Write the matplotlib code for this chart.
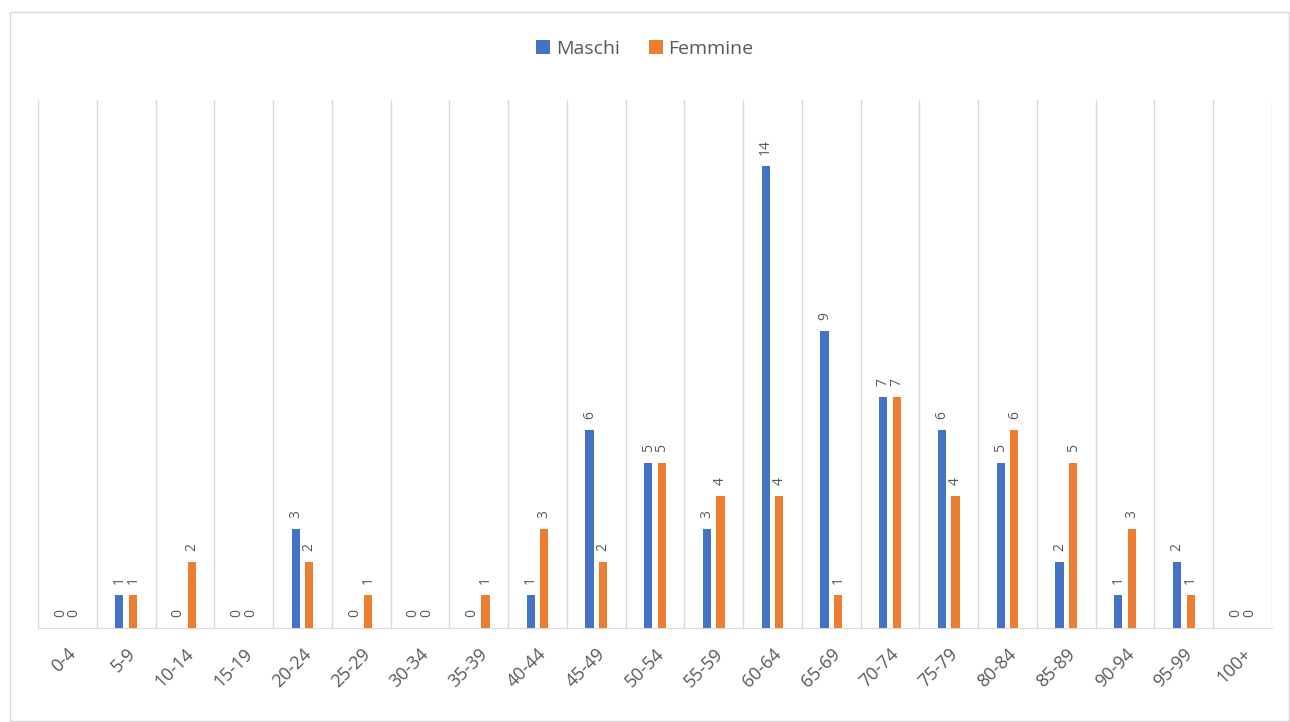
import numpy as np
from matplotlib import pyplot as plt
from matplotlib.patches import Rectangle

categories = ["0-4", "5-9", "10-14", "15-19", "20-24", "25-29", "30-34", "35-39",
              "40-44", "45-49", "50-54", "55-59", "60-64", "65-69", "70-74",
              "75-79", "80-84", "85-89", "90-94", "95-99", "100+"]
maschi = [0, 1, 0, 0, 3, 0, 0, 0, 1, 6, 5, 3, 14, 9, 7, 6, 5, 2, 1, 2, 0]
femmine = [0, 1, 2, 0, 2, 1, 0, 1, 3, 2, 5, 4, 4, 1, 7, 4, 6, 5, 3, 1, 0]

plt.rcParams["font.family"] = ["Open Sans", "DejaVu Sans"]
text_color = "#595959"
blue = "#4472C4"
orange = "#ED7D31"

fig = plt.figure(figsize=(12.9, 7.22), dpi=100)
ax = fig.add_axes([38 / 1290, 1 - 628 / 722, (1272 - 38) / 1290, (628 - 100) / 722])

# outer chart frame
fig.patches.append(Rectangle((10 / 1290, 0.002), 1279 / 1290, 1 - 12 / 722 - 0.002,
                             transform=fig.transFigure, fill=False,
                             edgecolor="#D9D9D9", linewidth=1))

x = np.arange(len(categories))
w = 0.14
off = 0.115
b1 = ax.bar(x - off, maschi, w, color=blue, label="Maschi")
b2 = ax.bar(x + off, femmine, w, color=orange, label="Femmine")

# value labels, rotated (reading bottom to top)
for bars, vals in [(b1, maschi), (b2, femmine)]:
    for rect, v in zip(bars, vals):
        ax.annotate(str(v), (rect.get_x() + rect.get_width() / 2, v),
                    xytext=(0, 8), textcoords="offset points",
                    rotation=90, ha="center", va="bottom", fontsize=10,
                    color=text_color)

ax.set_xlim(-0.5, len(categories) - 0.5)
ax.set_ylim(0, 16)
ax.set_yticks([])
ax.set_xticks(x)
ax.set_xticklabels(categories, rotation=45, ha="right", rotation_mode="anchor",
                   fontsize=13, color=text_color)
ax.tick_params(axis="x", length=0, pad=12)

# vertical separators between categories
for b in np.arange(-0.5, len(categories), 1):
    ax.axvline(b, color="#D9D9D9", linewidth=1, zorder=0)

for s in ["top", "right", "left"]:
    ax.spines[s].set_visible(False)
ax.spines["bottom"].set_color("#D9D9D9")

fig.legend(loc="center", bbox_to_anchor=(0.5, 1 - 49 / 722), ncol=2, frameon=False,
           fontsize=14, handlelength=0.7, handleheight=0.7, handletextpad=0.3,
           columnspacing=1.5, labelcolor=text_color)

fig.savefig("out.png", dpi=100)
